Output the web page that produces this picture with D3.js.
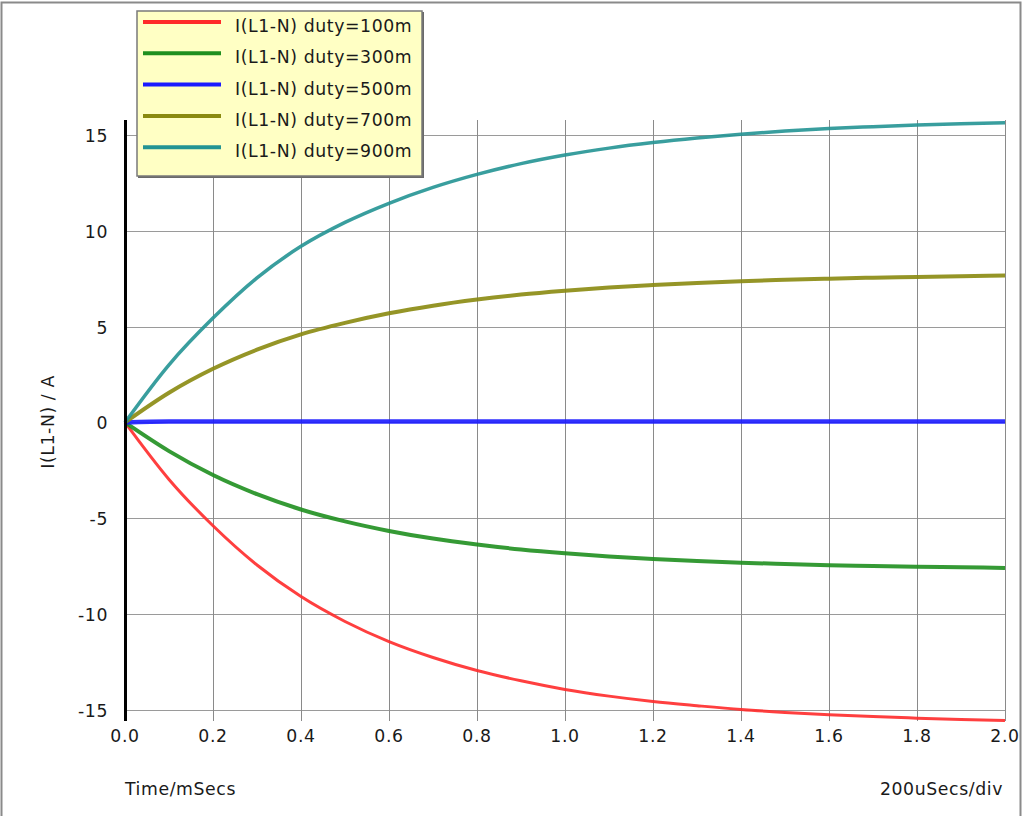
<!DOCTYPE html>
<html>
<head>
<meta charset="utf-8">
<script src="https://cdn.jsdelivr.net/npm/d3@7"></script>
<style>
  html, body { margin: 0; padding: 0; background: #fff; }
  svg { display: block; }
  text { font-family: "DejaVu Sans", Verdana, sans-serif; fill: #1a1a1a; }
</style>
</head>
<body>
<svg id="chart" width="1022" height="816"></svg>
<script>
// ---- data ----
const time = [0.0, 0.1, 0.2, 0.3, 0.4, 0.5, 0.6, 0.7, 0.8, 0.9, 1.0, 1.1, 1.2, 1.3, 1.4, 1.5, 1.6, 1.7, 1.8, 1.9, 2.0];
const duty100 = [0, -2.98, -5.4, -7.45, -9.1, -10.4, -11.45, -12.28, -12.96, -13.5, -13.95, -14.3, -14.58, -14.8, -15.0, -15.15, -15.27, -15.37, -15.45, -15.52, -15.57];
const duty300 = [0, -1.5, -2.75, -3.75, -4.55, -5.17, -5.67, -6.07, -6.38, -6.64, -6.84, -7.0, -7.13, -7.24, -7.33, -7.4, -7.46, -7.5, -7.54, -7.57, -7.6];
const duty500 = [0, 0.05, 0.05, 0.05, 0.05, 0.05, 0.05, 0.05, 0.05, 0.05, 0.05, 0.05, 0.05, 0.05, 0.05, 0.05, 0.05, 0.05, 0.05, 0.05, 0.05];
const duty700 = [0, 1.55, 2.8, 3.8, 4.6, 5.2, 5.7, 6.1, 6.42, 6.68, 6.88, 7.05, 7.18, 7.29, 7.38, 7.45, 7.51, 7.56, 7.6, 7.64, 7.67];
const duty900 = [0, 3.01, 5.45, 7.55, 9.2, 10.45, 11.45, 12.28, 12.96, 13.52, 13.97, 14.33, 14.62, 14.86, 15.06, 15.22, 15.35, 15.45, 15.54, 15.61, 15.66];
const seriesNames = ["I(L1-N) duty=100m", "I(L1-N) duty=300m", "I(L1-N) duty=500m", "I(L1-N) duty=700m", "I(L1-N) duty=900m"];
const seriesValues = [duty100, duty300, duty500, duty700, duty900];
const xTicks = [0.0, 0.2, 0.4, 0.6, 0.8, 1.0, 1.2, 1.4, 1.6, 1.8, 2.0];
const yTicks = [-15, -10, -5, 0, 5, 10, 15];
const xLabel = "Time/mSecs";
const xScaleLabel = "200uSecs/div";
const yLabel = "I(L1-N) / A";

// ---- styles ----
const colors = ["#ff2a2a", "#1f8f1f", "#1a1aff", "#8a8a10", "#239494"];
const widths = [3, 4, 4.5, 4, 3.5];
const FS = 17.3, LS = 0.6;

(function () {
const svg = d3.select("#chart");
const W = 1022, H = 816;
const pLeft = 125, pRight = 1005, pTop = 120, pBottom = 721;

const x = d3.scaleLinear().domain([0, 2]).range([pLeft, pRight]);
const y = d3.scaleLinear().domain([-15.6, 15.8]).range([pBottom, pTop]);

// grid
const grid = svg.append("g");
grid.selectAll("line.h").data(yTicks).join("line")
  .attr("x1", pLeft).attr("x2", pRight)
  .attr("y1", d => Math.round(y(d)) + 0.5).attr("y2", d => Math.round(y(d)) + 0.5)
  .attr("stroke", "#9a9a9a").attr("stroke-width", 1);
grid.selectAll("line.v").data(xTicks.slice(1)).join("line")
  .attr("x1", d => Math.round(x(d)) + 0.5).attr("x2", d => Math.round(x(d)) + 0.5)
  .attr("y1", pTop).attr("y2", pBottom)
  .attr("stroke", "#8a8a8a").attr("stroke-width", 1);

// x tick labels
svg.append("g").selectAll("text").data(xTicks).join("text")
  .attr("x", d => x(d)).attr("y", 742)
  .attr("text-anchor", "middle")
  .attr("font-size", FS).attr("letter-spacing", LS)
  .text(d => d.toFixed(1));

// y tick labels
svg.append("g").selectAll("text").data(yTicks).join("text")
  .attr("x", 108).attr("y", d => y(d) + 7)
  .attr("text-anchor", "end")
  .attr("font-size", FS).attr("letter-spacing", LS)
  .text(d => d);

// series lines
const line = d3.line().x((d, i) => x(time[i])).y(d => y(d)).curve(d3.curveMonotoneX);
svg.append("g").selectAll("path").data(seriesValues).join("path")
  .attr("d", d => line(d))
  .attr("fill", "none")
  .attr("stroke", (d, i) => colors[i])
  .attr("stroke-width", (d, i) => widths[i])
  .attr("stroke-opacity", 0.9)
  .attr("stroke-linejoin", "round");

// y axis line
svg.append("line")
  .attr("x1", pLeft + 0.5).attr("x2", pLeft + 0.5)
  .attr("y1", pTop).attr("y2", pBottom)
  .attr("stroke", "#000").attr("stroke-width", 3);

// axis labels
svg.append("text").attr("x", 125).attr("y", 795)
  .attr("font-size", FS).attr("letter-spacing", LS).text(xLabel);
svg.append("text").attr("x", 1003).attr("y", 795).attr("text-anchor", "end")
  .attr("font-size", FS).attr("letter-spacing", LS).text(xScaleLabel);
svg.append("text")
  .attr("transform", "translate(54,422) rotate(-90)")
  .attr("text-anchor", "middle")
  .attr("font-size", FS).attr("letter-spacing", LS).text(yLabel);

// outer border
svg.append("path")
  .attr("d", `M1.5,${H} L1.5,2.5 L1020.5,2.5 L1020.5,${H}`)
  .attr("fill", "none").attr("stroke", "#8a8a8a").attr("stroke-width", 2);

// legend
const lg = svg.append("g");
lg.append("rect").attr("x", 138).attr("y", 12).attr("width", 286).attr("height", 166)
  .attr("fill", "#6a6a6a");
lg.append("rect").attr("x", 137).attr("y", 11).attr("width", 285).attr("height", 165)
  .attr("fill", "#ffffc4").attr("stroke", "#7a7a7a").attr("stroke-width", 1.5);
const rows = lg.selectAll("g.row").data(seriesNames).join("g")
  .attr("transform", (d, i) => `translate(0,${22 + i * 31.3})`);
rows.append("line").attr("x1", 143).attr("x2", 221).attr("y1", 0).attr("y2", 0)
  .attr("stroke", (d, i) => colors[i]).attr("stroke-width", 4);
rows.append("text").attr("x", 235).attr("y", 10)
  .attr("font-size", FS).attr("letter-spacing", LS)
  .text(d => d);
})();
</script>
</body>
</html>
